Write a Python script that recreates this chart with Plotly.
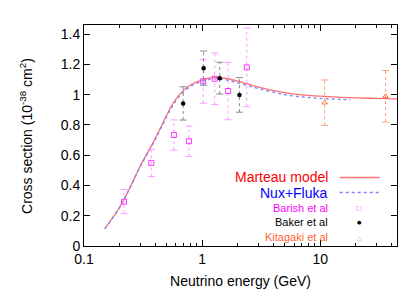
import plotly.graph_objects as go

# ---- data ----
model_E = [0.15, 0.2, 0.25, 0.3, 0.37, 0.45, 0.55, 0.65, 0.8, 1.0, 1.2, 1.5, 2, 3, 5, 7, 10, 15, 20, 30, 45]
marteau = [0.115, 0.255, 0.40, 0.53, 0.658, 0.79, 0.925, 1.005, 1.065, 1.097, 1.113, 1.11, 1.09, 1.05, 1.013, 0.998, 0.99, 0.982, 0.978, 0.975, 0.972]
nux_E = [0.15, 0.2, 0.25, 0.3, 0.37, 0.45, 0.55, 0.65, 0.8, 1.0, 1.2, 1.5, 2, 3, 5, 7, 10, 15, 18]
nux = [0.113, 0.253, 0.398, 0.527, 0.653, 0.78, 0.913, 0.994, 1.055, 1.088, 1.103, 1.10, 1.078, 1.04, 1.0, 0.985, 0.975, 0.968, 0.966]

barish_E = [0.218, 0.371, 0.577, 0.773, 1.02, 1.28, 1.66, 2.39]
barish_y = [0.293, 0.549, 0.733, 0.692, 1.088, 1.105, 1.024, 1.18]
barish_err = [0.08, 0.09, 0.10, 0.10, 0.145, 0.17, 0.19, 0.26]

baker_E = [0.691, 1.03, 1.41, 2.07]
baker_y = [0.942, 1.175, 1.109, 0.998]
baker_err = [0.11, 0.113, 0.105, 0.114]

kita_E = [10.9, 35.7]
kita_y = [0.947, 0.989]
kita_err = [0.15, 0.17]

x_ticks = [0.1, 1, 10]
x_tick_text = ["0.1", "1", "10"]
y_ticks = [0, 0.2, 0.4, 0.6, 0.8, 1.0, 1.2, 1.4]

FONT = "Liberation Sans, Arial, Helvetica, sans-serif"

fig = go.Figure()

fig.add_trace(go.Scatter(x=model_E, y=marteau, mode="lines",
                         line=dict(color="#ff7070", width=1.3, shape="spline", smoothing=1.0),
                         name="Marteau model"))
fig.add_trace(go.Scatter(x=nux_E, y=nux, mode="lines",
                         line=dict(color="#7f7fff", width=1.3, dash="dot", shape="spline", smoothing=1.0),
                         name="Nux+Fluka"))


def add_points(E, y, err, bar_color, marker):
    xs, ys = [], []
    for e, v, d in zip(E, y, err):
        xs += [e, e, None]
        ys += [v - d, v + d, None]
    fig.add_trace(go.Scatter(x=xs, y=ys, mode="lines",
                             line=dict(color=bar_color, width=1, dash="dot"),
                             hoverinfo="skip", showlegend=False))
    fig.add_trace(go.Scatter(x=E + E, y=[v + d for v, d in zip(y, err)] + [v - d for v, d in zip(y, err)],
                             mode="markers",
                             marker=dict(symbol="line-ew", size=5, line=dict(color=bar_color, width=1)),
                             hoverinfo="skip", showlegend=False))
    fig.add_trace(go.Scatter(x=E, y=y, mode="markers", marker=marker, showlegend=False))


add_points(barish_E, barish_y, barish_err, "#ff99ff",
           dict(symbol="square-open", size=5, color="#ff33ff", line=dict(width=1)))
add_points(baker_E, baker_y, baker_err, "#888888",
           dict(symbol="circle", size=4.5, color="black"))
add_points(kita_E, kita_y, kita_err, "#ffa080",
           dict(symbol="triangle-up-open", size=5, color="#ff7744", line=dict(width=1)))

# ---- legend (gnuplot style: text left, sample right) ----
legend_items = [
    ("Marteau model", "#ff0000", 14, "line", "#ff7070", "solid", 0),
    ("Nux+Fluka", "#0000ff", 14, "line", "#7f7fff", "dot", 0),
    ("Barish et al", "#ff00ff", 11, "□", "#ff33ff", None, 6),
    ("Baker et al", "#000000", 11, "●", "#000000", None, 5),
    ("Kitagaki et al", "#ff6633", 11, "△", "#ff7744", None, 6),
]
ypos = [0.310, 0.242, 0.174, 0.107, 0.040]
for (label, tcol, fs, kind, scol, dash, ss), yp in zip(legend_items, ypos):
    fig.add_annotation(x=0.787, y=yp, xref="paper", yref="paper", text=label,
                       showarrow=False, xanchor="right", yanchor="middle",
                       font=dict(family=FONT, size=fs, color=tcol))
    if kind == "line":
        fig.add_shape(type="line", xref="paper", yref="paper", x0=0.817, x1=0.945, y0=yp, y1=yp,
                      line=dict(color=scol, width=1.3, dash=dash))
    else:
        fig.add_annotation(x=0.88, y=yp, xref="paper", yref="paper", text=kind,
                           showarrow=False, xanchor="center", yanchor="middle",
                           font=dict(family="DejaVu Sans", size=ss, color=scol))

# y-axis title placed like gnuplot's
fig.add_annotation(x=-0.187, y=0.5, xref="paper", yref="paper",
                   text="Cross section (10<sup>-38</sup> cm<sup>2</sup>)", textangle=-90,
                   showarrow=False, xanchor="center", yanchor="middle",
                   font=dict(family=FONT, size=14, color="black"))

minor_vals = [m * 10 ** k for k in (-1, 0, 1) for m in range(2, 10)]

fig.update_layout(
    width=415, height=291,
    margin=dict(l=76, r=26, t=17, b=46),
    paper_bgcolor="white", plot_bgcolor="white",
    showlegend=False,
    font=dict(family=FONT, size=14, color="black"),
    xaxis=dict(type="log", range=[-1, 1.65], tickvals=x_ticks, ticktext=x_tick_text,
               ticks="inside", ticklen=6, tickcolor="black", showgrid=False, zeroline=False,
               showline=True, linecolor="black", linewidth=1, mirror="ticks",
               minor=dict(tickvals=minor_vals, ticks="inside", ticklen=3, tickcolor="black", showgrid=False),
               title=dict(text="Neutrino energy (GeV)", font=dict(size=14), standoff=10),
               tickfont=dict(size=14)),
    yaxis=dict(range=[0, 1.46], tickvals=y_ticks, ticks="inside", ticklen=6, tickcolor="black",
               showgrid=False, zeroline=False, showline=True, linecolor="black", linewidth=1,
               mirror="ticks", tickfont=dict(size=14)),
)

fig.write_html("out.html")
